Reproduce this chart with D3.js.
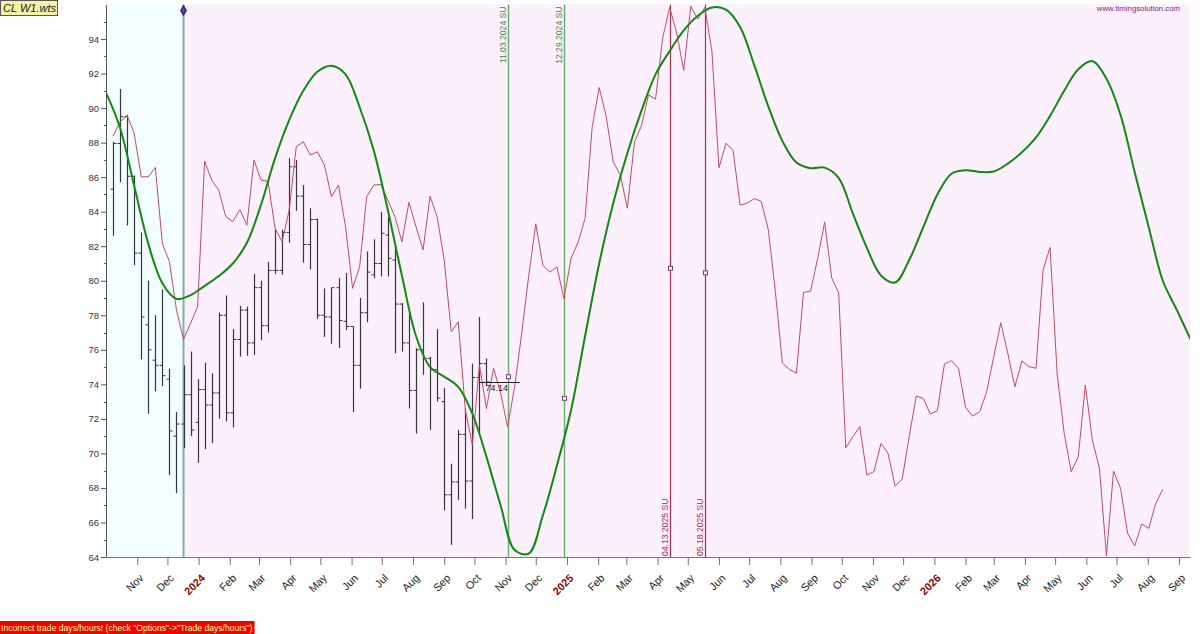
<!DOCTYPE html>
<html>
<head>
<meta charset="utf-8">
<title>CL W1.wts</title>
<script src="https://cdn.jsdelivr.net/npm/d3@7"></script>
<style>
body { margin: 0; background: #fff; }
svg { display: block; font-family: "Liberation Sans", Arial, sans-serif; }
</style>
</head>
<body>
<svg id="chart" width="1200" height="634"></svg>
<script>
// 
// CL weekly bars, projection line (red) and cycle model (green).
// Bars and red line are weekly (Sundays), green is sampled every two weeks.
// 

var barStart = '2023-10-08';
var barOpen  = [85.3, 87.95, 89.5, 86.05, 81.6, 77.45, 75.4, 75.1, 74.3, 71.0,
                71.7, 73.4, 71.8, 73.7, 72.8, 73.5, 78.0, 72.35, 76.6, 78.3,
                76.4, 79.6, 77.4, 80.6, 80.6, 82.8, 86.6, 84.9, 82.1, 83.55,
                78.0, 77.9, 79.6, 77.65, 77.35, 75.1, 78.15, 80.35, 81.0, 82.65,
                81.2, 78.65, 76.4, 73.65, 76.0, 75.5, 74.85, 73.0, 67.6, 68.35,
                71.1, 68.4, 74.4, 75.2];
var barHigh  = [88.05, 91.1, 89.6, 86.1, 82.8, 80.0, 78.0, 79.5, 74.9, 72.4,
                75.1, 75.9, 74.3, 75.25, 74.65, 78.15, 79.15, 77.2, 78.55, 78.5,
                80.4, 80.0, 81.1, 82.95, 82.95, 87.1, 87.0, 85.55, 84.2, 83.6,
                79.55, 79.6, 80.15, 80.45, 77.35, 79.0, 81.7, 82.4, 84.0, 83.7,
                81.95, 78.7, 78.2, 76.1, 78.75, 75.6, 77.2, 73.8, 69.4, 71.35,
                72.6, 75.2, 77.9, 75.5];
var barLow   = [82.6, 85.7, 83.2, 80.9, 75.45, 72.3, 73.6, 73.9, 68.75, 67.7,
                70.3, 71.0, 69.45, 70.25, 70.6, 72.0, 71.85, 71.5, 75.6, 75.65,
                75.7, 76.55, 77.0, 80.4, 80.35, 82.2, 84.05, 81.05, 80.65, 77.8,
                76.75, 76.35, 76.1, 77.15, 72.4, 73.75, 77.6, 80.15, 80.25, 80.25,
                75.8, 75.9, 72.6, 71.15, 74.55, 71.35, 73.0, 66.7, 64.7, 67.3,
                66.8, 66.2, 71.2, 73.9];
var barClose = [87.95, 89.5, 86.05, 81.6, 77.9, 76.0, 75.1, 74.5, 71.3, 71.7,
                73.4, 71.35, 73.7, 72.8, 73.5, 78.0, 72.35, 76.6, 78.3, 76.4,
                79.6, 77.4, 80.6, 80.6, 82.8, 86.6, 84.9, 82.1, 83.55, 78.0,
                77.9, 79.6, 77.7, 77.35, 75.1, 78.15, 80.5, 81.0, 82.75, 81.3,
                78.65, 76.4, 73.65, 76.0, 75.5, 74.85, 73.2, 67.6, 68.35, 71.1,
                68.4, 74.4, 75.2, 74.14];

var redStart = '2023-10-08';
var redValues = [88.38, 89.21, 89.56, 88.53, 86.02, 86.02, 86.56, 82.16, 81.10, 78.30,
                 76.60, 77.53, 78.49, 86.93, 85.83, 85.25, 83.71, 83.42, 84.13, 83.22,
                 86.99, 85.83, 85.77, 83.03, 82.26, 84.09, 87.76, 88.05, 87.28, 87.47,
                 86.70, 84.86, 85.54, 83.13, 79.56, 80.81, 84.86, 85.54, 85.58, 84.67,
                 83.71, 82.26, 84.54, 83.13, 81.78, 84.90, 83.71, 81.20, 77.05, 77.62,
                 72.51, 70.49, 75.12, 72.60, 74.93, 73.50, 71.55, 73.86, 76.95, 80.30,
                 83.30, 80.90, 80.50, 80.80, 78.97, 81.28, 82.23, 83.61, 88.88, 91.19,
                 89.51, 86.87, 86.14, 84.20, 88.03, 88.98, 90.77, 90.52, 94.04, 95.83,
                 94.35, 92.18, 95.89, 95.16, 95.83, 93.30, 86.55, 87.97, 87.55, 84.38,
                 84.49, 84.76, 84.60, 82.97, 79.39, 75.24, 74.86, 74.65, 79.33, 79.39,
                 81.28, 83.39, 80.17, 79.29, 70.32, 70.96, 71.55, 68.74, 68.95, 70.58,
                 70.00, 68.11, 68.50, 70.97, 73.32, 73.19, 72.28, 72.47, 75.18, 75.37,
                 74.93, 72.67, 72.16, 72.41, 73.57, 75.60, 77.57, 75.79, 73.86, 75.35,
                 75.02, 74.93, 80.62, 81.93, 74.60, 71.16, 68.94, 69.81, 73.96, 70.77,
                 69.14, 64.06, 68.98, 67.98, 65.37, 64.64, 65.91, 65.66, 67.11, 67.92];

var greenStart = '2023-10-01';
var greenValues = [90.9, 88.85, 85.5, 82.15, 79.85, 78.95, 79.17, 79.7, 80.27, 81.0,
                   82.2, 84.4, 87.1, 89.3, 91.0, 92.1, 92.45, 91.95, 90.05, 87.55,
                   84.1, 80.3, 76.8, 75.0, 74.45, 73.85, 72.3, 69.8, 67.0, 64.4,
                   64.2, 66.4, 69.3, 72.5, 76.8, 81.0, 84.5, 87.4, 89.85, 91.95,
                   93.3, 94.5, 95.35, 95.83, 95.7, 94.7, 92.5, 90.1, 88.1, 86.85,
                   86.52, 86.55, 85.95, 83.9, 81.9, 80.3, 79.9, 81.2, 83.1, 85.0,
                   86.2, 86.4, 86.3, 86.33, 86.78, 87.44, 88.3, 89.55, 91.0, 92.25,
                   92.72, 91.7, 89.6, 86.3, 83.1, 80.0, 78.3, 76.55];

var splitDate = '2023-12-17';
var eventDates  = ['2024-11-03', '2024-12-29', '2025-04-13', '2025-05-18'];
var eventLabels = ['11.03.2024 SU', '12.29.2024 SU', '04.13.2025 SU', '05.18.2025 SU'];
var eventKinds  = ['green', 'green', 'red', 'red'];
var eventMarks  = [74.44, 73.19, 80.72, 80.46];

var lastPrice = 74.14;
var lastPriceSpan = ['2024-10-06', '2024-11-15'];

var yTickValues = [64, 66, 68, 70, 72, 74, 76, 78, 80, 82, 84, 86, 88, 90, 92, 94];
var yMinorValues = [65, 67, 69, 71, 73, 75, 77, 79, 81, 83, 85, 87, 89, 91, 93, 95];
var monthNames = ['Jan', 'Feb', 'Mar', 'Apr', 'May', 'Jun', 'Jul', 'Aug', 'Sep', 'Oct', 'Nov', 'Dec'];
var monthTickRange = ['2023-11-01', '2026-09-02'];
var xDomain = ['2023-10-01', '2026-09-12'];
var yDomain = [64, 96];

var parse = d3.utcParse('%Y-%m-%d');
var plotLeft = 106, plotRight = 1190, plotTop = 4.5, plotBottom = 557;

var svg = d3.select('#chart');

var x = d3.scaleUtc().domain(xDomain.map(parse)).range([plotLeft, plotRight]);
var y = d3.scaleLinear().domain(yDomain).range([plotBottom, plotTop]);

function step_date(start, days, i) { return d3.utcDay.offset(parse(start), days * i) }

// backgrounds: training part (cyan) and the rest (pink)
var xs = x(parse(splitDate));

svg.append('rect')
    .attr('x', plotLeft).attr('y', plotTop)
    .attr('width', xs - plotLeft).attr('height', plotBottom - plotTop)
    .attr('fill', '#f3fefe');

svg.append('rect')
    .attr('x', xs).attr('y', plotTop)
    .attr('width', plotRight - xs).attr('height', plotBottom - plotTop)
    .attr('fill', '#fcf0fc');

svg.append('clipPath').attr('id', 'plot')
    .append('rect')
    .attr('x', plotLeft).attr('y', plotTop)
    .attr('width', plotRight - plotLeft).attr('height', plotBottom - plotTop);

var plot = svg.append('g').attr('clip-path', 'url(#plot)');

// event lines
var events = d3.range(eventDates.length).map(function(i) {
    return {date: parse(eventDates[i]), label: eventLabels[i], kind: eventKinds[i], mark: eventMarks[i]};
});

plot.selectAll('line.event')
    .data(events)
    .enter()
    .append('line')
    .attr('class', 'event')
    .attr('x1', function(d) { return Math.round(x(d.date)) + 0.5 })
    .attr('x2', function(d) { return Math.round(x(d.date)) + 0.5 })
    .attr('y1', plotTop)
    .attr('y2', plotBottom)
    .attr('stroke', function(d) { return d.kind == 'green' ? '#6aaa6a' : '#a8304c' })
    .attr('stroke-width', function(d) { return d.kind == 'green' ? 1.4 : 1.2 });

svg.selectAll('text.event')
    .data(events)
    .enter()
    .append('text')
    .attr('class', 'event')
    .attr('font-size', 8.6)
    .attr('fill', function(d) { return d.kind == 'green' ? '#3c8a3c' : '#a8304c' })
    .attr('text-anchor', function(d) { return d.kind == 'green' ? 'end' : 'start' })
    .attr('transform', function(d) {
        var ty = d.kind == 'green' ? plotTop + 2 : plotBottom - 1;
        return 'translate(' + (Math.round(x(d.date)) - 2) + ',' + ty + ') rotate(-90)';
    })
    .text(function(d) { return d.label });

// split line
plot.append('line')
    .attr('x1', xs).attr('x2', xs)
    .attr('y1', plotTop).attr('y2', plotBottom)
    .attr('stroke', '#7fb0b0')
    .attr('stroke-width', 2);

// weekly OHLC bars
var bars = d3.range(barOpen.length).map(function(i) {
    return {date: step_date(barStart, 7, i), o: barOpen[i], h: barHigh[i], l: barLow[i], c: barClose[i]};
});

var bar = plot.selectAll('g.bar')
    .data(bars)
    .enter()
    .append('g')
    .attr('class', 'bar')
    .attr('stroke', '#383838')
    .attr('transform', function(d) { return 'translate(' + (Math.round(x(d.date)) + 0.5) + ',0)' });

bar.append('line').attr('y1', function(d) { return y(d.h) }).attr('y2', function(d) { return y(d.l) }).attr('stroke-width', 1.2);
bar.append('line').attr('x1', -3).attr('x2', 0).attr('y1', function(d) { return y(d.o) }).attr('y2', function(d) { return y(d.o) });
bar.append('line').attr('x1', 0).attr('x2', 3).attr('y1', function(d) { return y(d.c) }).attr('y2', function(d) { return y(d.c) });

// red projection
var red = redValues.map(function(v, i) { return {date: step_date(redStart, 7, i), v: v} });

plot.append('path')
    .datum(red)
    .attr('fill', 'none')
    .attr('stroke', '#c44a62')
    .attr('stroke-width', 1)
    .attr('d', d3.line().x(function(d) { return x(d.date) }).y(function(d) { return y(d.v) }));

// green model
var green = greenValues.map(function(v, i) { return {date: step_date(greenStart, 14, i), v: v} });

plot.append('path')
    .datum(green)
    .attr('fill', 'none')
    .attr('stroke', '#118a11')
    .attr('stroke-width', 2)
    .attr('d', d3.line().curve(d3.curveCatmullRom).x(function(d) { return x(d.date) }).y(function(d) { return y(d.v) }));

// markers on the event lines
plot.selectAll('rect.mark')
    .data(events)
    .enter()
    .append('rect')
    .attr('class', 'mark')
    .attr('x', function(d) { return Math.round(x(d.date)) - 1.5 })
    .attr('y', function(d) { return y(d.mark) - 2 })
    .attr('width', 4).attr('height', 4)
    .attr('fill', '#f6eef6')
    .attr('stroke', '#6e4a70');

// last price
var lp = lastPriceSpan.map(parse);

plot.append('line')
    .attr('x1', x(lp[0])).attr('x2', x(lp[1]))
    .attr('y1', Math.round(y(lastPrice)) + 0.5).attr('y2', Math.round(y(lastPrice)) + 0.5)
    .attr('stroke', '#222');

svg.append('text')
    .attr('x', x(lp[0]) + 6)
    .attr('y', y(lastPrice) + 9)
    .attr('font-size', 9)
    .attr('fill', '#222')
    .text(lastPrice.toFixed(2));

// axes
var gy = svg.append('g')
    .attr('transform', 'translate(' + plotLeft + ',0)')
    .call(d3.axisLeft(y).tickValues(yTickValues).tickSize(5).tickSizeOuter(0).tickPadding(2));

gy.attr('font-family', null).attr('font-size', 9.5);
gy.select('.domain').attr('stroke', '#555');
gy.selectAll('.tick line').attr('stroke', '#555');
gy.selectAll('.tick text').attr('fill', '#333');

gy.selectAll('line.minor')
    .data(yMinorValues)
    .enter()
    .append('line')
    .attr('class', 'minor')
    .attr('x1', -2).attr('x2', 0)
    .attr('y1', function(d) { return Math.round(y(d)) + 0.5 })
    .attr('y2', function(d) { return Math.round(y(d)) + 0.5 })
    .attr('stroke', '#555');

var months = d3.utcMonth.range(parse(monthTickRange[0]), parse(monthTickRange[1]));

function month_label(d) { return d.getUTCMonth() == 0 ? String(d.getUTCFullYear()) : monthNames[d.getUTCMonth()] }

var gx = svg.append('g')
    .attr('transform', 'translate(0,' + plotBottom + ')')
    .call(d3.axisBottom(x).tickValues(months).tickSize(8).tickSizeOuter(0).tickFormat(month_label));

gx.attr('font-family', null).attr('font-size', 10.8);
gx.select('.domain').attr('stroke', '#777');
gx.selectAll('.tick line').attr('stroke', '#a06060');
gx.selectAll('.tick text')
    .attr('x', 0).attr('y', 0).attr('dy', '0.35em')
    .attr('text-anchor', 'end')
    .attr('transform', 'translate(4,19) rotate(-45)')
    .attr('font-weight', function(d) { return d.getUTCMonth() == 0 ? 'bold' : null })
    .attr('fill', function(d) { return d.getUTCMonth() == 0 ? '#8b0000' : '#222' });

// start-of-forecast diamond
svg.append('path')
    .attr('transform', 'translate(' + xs + ',' + (plotTop + 6) + ')')
    .attr('d', d3.symbol().type(d3.symbolDiamond).size(42)())
    .attr('fill', '#2a2f8c');

svg.append('path')
    .attr('transform', 'translate(' + xs + ',' + (plotTop + 6) + ')')
    .attr('d', d3.symbol().type(d3.symbolDiamond).size(8)())
    .attr('fill', '#c03040');

// captions
svg.append('rect')
    .attr('x', 0.5).attr('y', 0.5)
    .attr('width', 57).attr('height', 15)
    .attr('fill', '#f4f4a4')
    .attr('stroke', '#555');

svg.append('text')
    .attr('x', 3).attr('y', 12)
    .attr('font-size', 11)
    .attr('font-style', 'italic')
    .attr('fill', '#222')
    .text('CL W1.wts');

svg.append('text')
    .attr('x', 1180).attr('y', 11)
    .attr('text-anchor', 'end')
    .attr('font-size', 7.8)
    .attr('fill', '#7a2a86')
    .text('www.timingsolution.com');

var warn = svg.append('g');
var warnText = warn.append('text')
    .attr('x', 1).attr('y', 631)
    .attr('font-size', 8.6)
    .attr('fill', '#ffff9a')
    .text('Incorrect trade days/hours! (check "Options"->"Trade days/hours")');

var bb = warnText.node().getBBox();
warn.insert('rect', 'text')
    .attr('x', 0).attr('y', 621)
    .attr('width', bb.width + 3).attr('height', 13)
    .attr('fill', '#f40000');
</script>
</body>
</html>
